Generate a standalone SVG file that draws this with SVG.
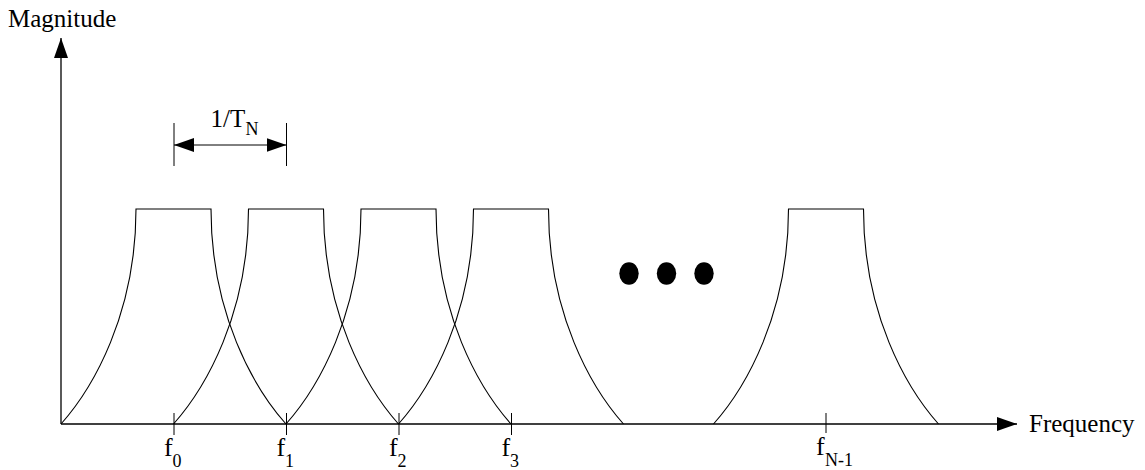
<svg xmlns="http://www.w3.org/2000/svg" width="1145" height="470" viewBox="0 0 1145 470">
<style>
.t{font-family:'Liberation Serif','Times New Roman','DejaVu Serif',serif;font-size:25px;fill:#000}
.f{font-size:26px}
.s{font-size:18px}
.ax{stroke:#000;stroke-width:1.3;fill:none}
.cv{stroke:#000;stroke-width:1.1;fill:none}
.tk{stroke:#000;stroke-width:1;fill:none}
</style>
<defs>
<marker id="ah" viewBox="0 0 20 14" refX="20" refY="7" markerWidth="20" markerHeight="14" markerUnits="userSpaceOnUse" orient="auto-start-reverse">
<path d="M0,0 L20,7 L0,14 Z" fill="#000"/>
</marker>
</defs>
<rect width="1145" height="470" fill="#fff"/>
<g id="connectors">
<line class="ax" x1="61" y1="424" x2="61" y2="38" marker-end="url(#ah)"/>
<line class="ax" x1="61" y1="424" x2="1017" y2="424" marker-end="url(#ah)"/>
<line class="tk" x1="174" y1="123" x2="174" y2="166"/>
<line class="tk" x1="286.5" y1="123" x2="286.5" y2="166"/>
<line class="tk" x1="174" y1="145" x2="286.5" y2="145" marker-start="url(#ah)" marker-end="url(#ah)"/>
</g>
<g id="pulse0"><path class="cv" d="M61,424 C93,388 136,314 136,209 H211 C211,314 254,388 286,424"/></g>
<g id="pulse1"><path class="cv" d="M173.5,424 C205.5,388 248.5,314 248.5,209 H323.5 C323.5,314 366.5,388 398.5,424"/></g>
<g id="pulse2"><path class="cv" d="M286,424 C318,388 361,314 361,209 H436 C436,314 479,388 511,424"/></g>
<g id="pulse3"><path class="cv" d="M398.5,424 C430.5,388 473.5,314 473.5,209 H548.5 C548.5,314 591.5,388 623.5,424"/></g>
<g id="pulseN"><path class="cv" d="M713.5,424 C745.5,388 788.5,314 788.5,209 H863.5 C863.5,314 906.5,388 938.5,424"/></g>
<g id="dots">
<ellipse cx="629" cy="273.5" rx="9.7" ry="11.2" fill="#000"/>
<ellipse cx="666.5" cy="273.5" rx="9.7" ry="11.2" fill="#000"/>
<ellipse cx="704" cy="273.5" rx="9.7" ry="11.2" fill="#000"/>
</g>
<g id="ticks">
<line class="tk" x1="174" y1="413" x2="174" y2="435"/>
<line class="tk" x1="286.5" y1="413" x2="286.5" y2="435"/>
<line class="tk" x1="399" y1="413" x2="399" y2="435"/>
<line class="tk" x1="511.5" y1="413" x2="511.5" y2="435"/>
<line class="tk" x1="826" y1="413" x2="826" y2="433"/>
</g>
<g id="labels">
<text class="t" x="8" y="27">Magnitude</text>
<text class="t" x="1029" y="432">Frequency</text>
<text class="t" x="210.5" y="127">1/T<tspan class="s" x="245.5" y="135">N</tspan></text>
<text class="t f" x="164" y="456">f<tspan class="s" x="172.5" y="467">0</tspan></text>
<text class="t f" x="276.5" y="456">f<tspan class="s" x="285" y="467">1</tspan></text>
<text class="t f" x="389" y="456">f<tspan class="s" x="397.5" y="467">2</tspan></text>
<text class="t f" x="501.5" y="456">f<tspan class="s" x="510" y="467">3</tspan></text>
<text class="t f" x="816" y="455">f<tspan class="s" x="825" y="466">N-1</tspan></text>
</g>
</svg>
